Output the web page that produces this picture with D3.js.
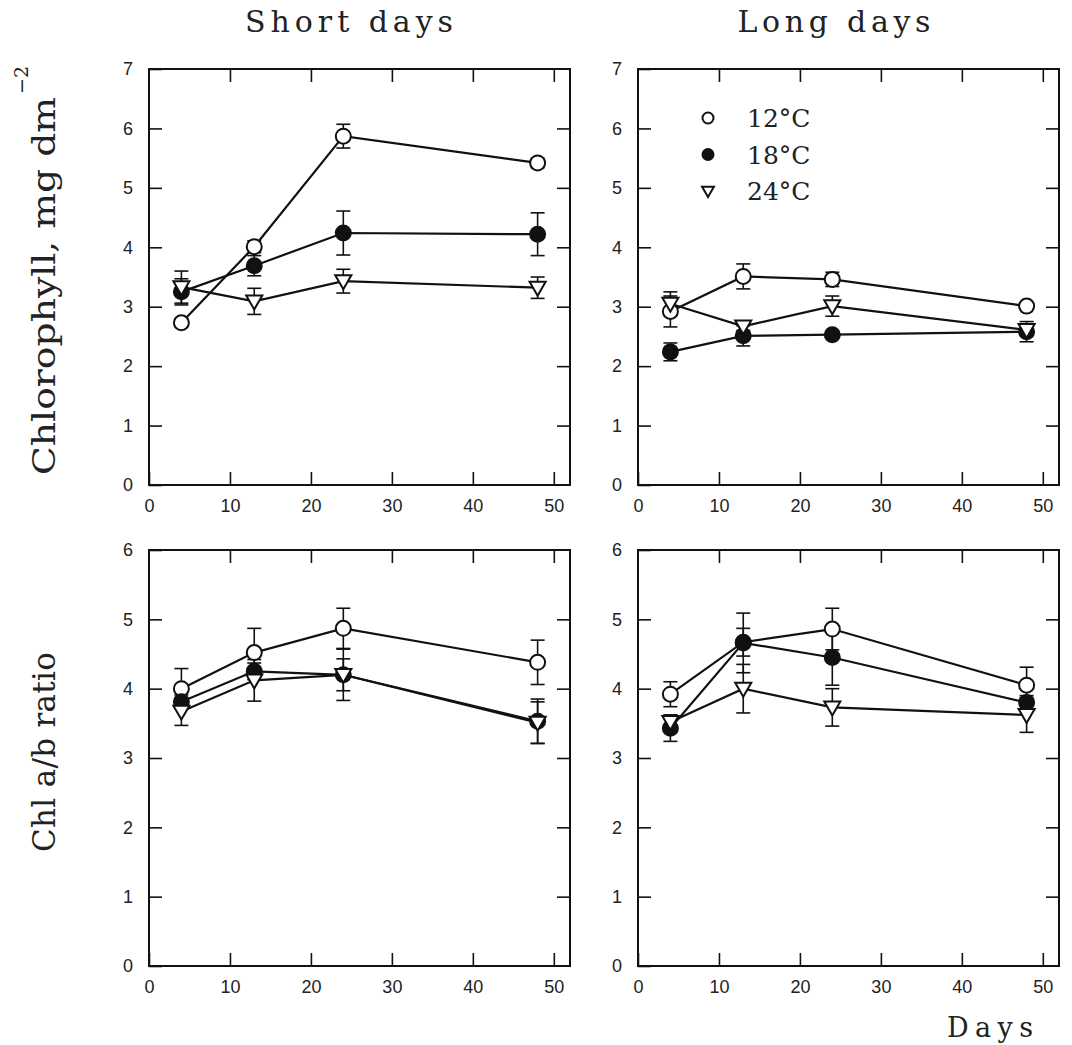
<!DOCTYPE html>
<html>
<head>
<meta charset="utf-8">
<script src="https://cdn.jsdelivr.net/npm/d3@7"></script>
<style>
  body { margin: 0; background: #fff; }
  svg { display: block; }
  .tick text { font-family: "Liberation Sans", Arial, sans-serif; font-size: 18px; fill: #222; }
  .serif { font-family: "DejaVu Serif", serif; fill: #222; }
</style>
</head>
<body>
<svg width="1072" height="1045"></svg>
<script>
// sampling days
const days = [4, 13, 24, 48];
const temps = ["12°C", "18°C", "24°C"];
const xTicks = [0, 10, 20, 30, 40, 50];

// Chlorophyll, mg dm-2  (rows: 12, 18, 24 °C)
const chlShortMean = [[2.73, 4.01, 5.87, 5.42], [3.25, 3.69, 4.24, 4.22], [3.33, 3.09, 3.43, 3.32]];
const chlShortErr  = [[0.07, 0.10, 0.20, 0.08], [0.22, 0.17, 0.37, 0.36], [0.27, 0.22, 0.20, 0.18]];
const chlLongMean  = [[2.92, 3.51, 3.46, 3.01], [2.24, 2.51, 2.53, 2.58], [3.05, 2.67, 3.01, 2.61]];
const chlLongErr   = [[0.26, 0.21, 0.12, 0.05], [0.15, 0.17, 0.05, 0.17], [0.20, 0.07, 0.17, 0.10]];

// Chl a/b ratio
const abShortMean = [[4.00, 4.52, 4.87, 4.38], [3.81, 4.25, 4.20, 3.53], [3.67, 4.12, 4.20, 3.51]];
const abShortErr  = [[0.29, 0.35, 0.29, 0.32], [0.10, 0.12, 0.37, 0.32], [0.20, 0.30, 0.23, 0.30]];
const abLongMean  = [[3.92, 4.67, 4.86, 4.05], [3.43, 4.66, 4.45, 3.80], [3.52, 4.00, 3.73, 3.62]];
const abLongErr   = [[0.18, 0.20, 0.30, 0.26], [0.19, 0.43, 0.40, 0.10], [0.10, 0.35, 0.27, 0.25]];

const svg = d3.select("svg");

const panels = [
  { left: 149, right: 570, bottom: 485, top: 69, yMax: 7, mean: chlShortMean, err: chlShortErr },
  { left: 638, right: 1059, bottom: 485, top: 69, yMax: 7, mean: chlLongMean, err: chlLongErr, legend: true },
  { left: 149, right: 570, bottom: 966, top: 550, yMax: 6, mean: abShortMean, err: abShortErr },
  { left: 638, right: 1059, bottom: 966, top: 550, yMax: 6, mean: abLongMean, err: abLongErr }
];

const triPath = "M-7.5,-5.5L7.5,-5.5L0,7.5Z";

function drawMarker(g, kind, x, y, r) {
  if (kind === 2) {
    const s = r / 7;
    g.append("path")
      .attr("d", triPath)
      .attr("transform", `translate(${x},${y}) scale(${s})`)
      .attr("fill", "#fff").attr("stroke", "#111").attr("stroke-width", 2 / s);
  } else {
    g.append("circle")
      .attr("cx", x).attr("cy", y).attr("r", r)
      .attr("fill", kind === 1 ? "#111" : "#fff")
      .attr("stroke", "#111").attr("stroke-width", 2);
  }
}

panels.forEach(p => {
  const x = d3.scaleLinear().domain([0, 52]).range([p.left, p.right]);
  const y = d3.scaleLinear().domain([0, p.yMax]).range([p.bottom, p.top]);
  const g = svg.append("g");
  const yTicks = d3.range(0, p.yMax + 1);

  // axes with inward ticks
  g.append("g").attr("transform", `translate(0,${p.bottom})`)
    .call(d3.axisBottom(x).tickValues(xTicks).tickFormat(d3.format("d"))
      .tickSize(-13).tickSizeOuter(0).tickPadding(14));
  g.append("g").attr("transform", `translate(${p.left},0)`)
    .call(d3.axisLeft(y).tickValues(yTicks).tickFormat(d3.format("d"))
      .tickSize(-13).tickSizeOuter(0).tickPadding(16));
  g.append("g").attr("transform", `translate(0,${p.top})`)
    .call(d3.axisTop(x).tickValues(xTicks.slice(1)).tickSize(-13).tickSizeOuter(0).tickFormat(""));
  g.append("g").attr("transform", `translate(${p.right},0)`)
    .call(d3.axisRight(y).tickValues(yTicks.slice(1, -1)).tickSize(-13).tickSizeOuter(0).tickFormat(""));
  g.selectAll(".domain").remove();
  g.selectAll(".tick line").attr("stroke", "#111").attr("stroke-width", 1.6);

  g.append("rect")
    .attr("x", p.left).attr("y", p.top)
    .attr("width", p.right - p.left).attr("height", p.bottom - p.top)
    .attr("fill", "none").attr("stroke", "#111").attr("stroke-width", 2);

  const line = d3.line().x((d, i) => x(days[i])).y(d => y(d));

  p.mean.forEach(series => {
    g.append("path").attr("d", line(series))
      .attr("fill", "none").attr("stroke", "#111").attr("stroke-width", 2.2);
  });

  p.mean.forEach((series, s) => {
    series.forEach((v, i) => {
      const e = p.err[s][i];
      const cx = x(days[i]);
      const eb = g.append("g").attr("stroke", "#111").attr("stroke-width", 1.6);
      eb.append("line").attr("x1", cx).attr("x2", cx).attr("y1", y(v - e)).attr("y2", y(v + e));
      eb.append("line").attr("x1", cx - 7).attr("x2", cx + 7).attr("y1", y(v - e)).attr("y2", y(v - e));
      eb.append("line").attr("x1", cx - 7).attr("x2", cx + 7).attr("y1", y(v + e)).attr("y2", y(v + e));
    });
  });

  p.mean.forEach((series, s) => {
    series.forEach((v, i) => drawMarker(g, s, x(days[i]), y(v), 7.5));
  });

  if (p.legend) {
    temps.forEach((t, i) => {
      const ly = 118 + i * 36.5;
      drawMarker(g, i, 708, ly, 5.5);
      g.append("text").attr("class", "serif")
        .attr("x", 747).attr("y", ly + 9)
        .attr("font-size", 25)
        .text(t);
    });
  }
});

// column titles
[["Short days", 349], ["Long days", 834]].forEach(([t, cx], i) => {
  svg.append("text").attr("class", "serif")
    .attr("x", cx).attr("y", 32)
    .attr("text-anchor", "middle")
    .attr("font-size", 30)
    .attr("textLength", i === 0 ? 208 : 193)
    .attr("lengthAdjust", "spacing")
    .text(t);
});

// y labels
svg.append("text").attr("class", "serif")
  .attr("transform", "translate(55,475) rotate(-90)")
  .attr("font-size", 31)
  .attr("textLength", 378)
  .attr("lengthAdjust", "spacingAndGlyphs")
  .text("Chlorophyll, mg dm");
svg.append("text").attr("class", "serif")
  .attr("transform", "translate(28,94) rotate(-90)")
  .attr("font-size", 19)
  .text("\u22122");
svg.append("text").attr("class", "serif")
  .attr("transform", "translate(55,852) rotate(-90)")
  .attr("font-size", 31)
  .attr("textLength", 200)
  .attr("lengthAdjust", "spacing")
  .text("Chl a/b ratio");

// x label
svg.append("text").attr("class", "serif")
  .attr("x", 947).attr("y", 1037)
  .attr("font-size", 27)
  .attr("textLength", 86)
  .attr("lengthAdjust", "spacing")
  .text("Days");
</script>
</body>
</html>
